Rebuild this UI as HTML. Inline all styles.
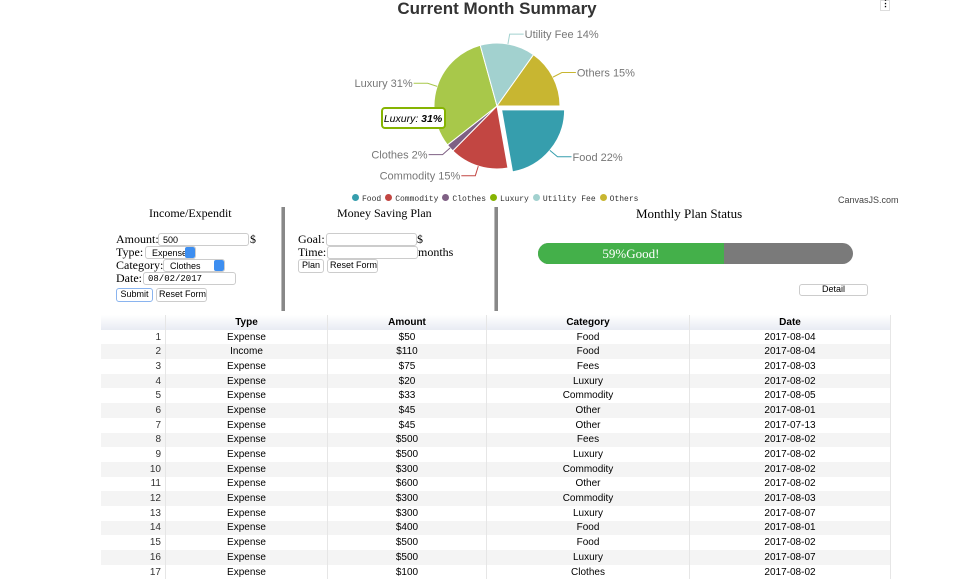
<!DOCTYPE html>
<html><head><meta charset="utf-8"><style>
body{margin:0;width:974px;height:568px;overflow:hidden;background:#fff;position:relative;font-family:"Liberation Serif",serif}
*{white-space:nowrap}
.abs{position:absolute}
.lbl{font-family:"Liberation Serif",serif;font-size:12px;color:#000}
input.t,.sel,.btn{position:absolute;border:1px solid #ccc;border-radius:3px;background:#fff;font-family:"Liberation Sans",sans-serif;font-size:9px;box-sizing:border-box;padding:1px 4px;height:13px;line-height:10px;overflow:hidden}
.btn{text-align:center;height:14px;line-height:11px;padding:0 2px}
.sel{padding-left:6px}
.sel .ar{position:absolute;right:0;top:0;width:10px;height:100%;background:#3d8ef0;border-radius:2px}
.vr{position:absolute;width:3px;background:#888;border-left:1px solid #bbb}
table{position:absolute;left:101px;top:315px;width:790px;border-collapse:collapse;font-family:"Liberation Sans",sans-serif;font-size:10px}
td,th{height:14.7px;padding:0;text-align:center;border-right:1px solid #e6e6e6}
th{background:linear-gradient(#fff,#e8ebf3);font-weight:bold}
td:first-child{text-align:right;padding-right:4px;color:#333}
tr:nth-child(even) td{background:#f4f4f4}
</style></head><body>
<div class="abs" style="left:0;width:994px;top:-1px;text-align:center;font:bold 17px 'Liberation Sans',sans-serif;color:#333">Current Month Summary</div>
<div class="abs" style="left:880px;top:0;width:8px;height:9px;border:1px solid #ddd;font:bold 9px sans-serif;text-align:center;line-height:4px">⋮</div>
<svg class="abs" style="left:0;top:0" width="974" height="210" id="pie"></svg>
<div class="abs" id="legend" style="left:352px;top:194px;font:8px 'Liberation Mono',monospace;color:#333;white-space:nowrap"></div>
<div class="abs" style="left:838px;top:195px;font:9px 'Liberation Sans',sans-serif;color:#444">CanvasJS.com</div>

<div class="abs lbl" style="left:149px;top:206px">Income/Expendit</div>
<div class="abs lbl" style="left:116px;top:232px">Amount:</div>
<input class="t" value="500" style="left:158px;top:233px;width:91px">
<div class="abs lbl" style="left:250px;top:232px">$</div>
<div class="abs lbl" style="left:116px;top:245px">Type:</div>
<div class="sel" style="left:145px;top:246px;width:51px">Expense<span class="ar"></span></div>
<div class="abs lbl" style="left:116px;top:258px">Category:</div>
<div class="sel" style="left:163px;top:259px;width:62px">Clothes<span class="ar"></span></div>
<div class="abs lbl" style="left:116px;top:271px">Date:</div>
<input class="t" value="08/02/2017" style="left:143px;top:272px;width:93px;font-family:'Liberation Mono',monospace">
<div class="btn" style="left:116px;top:288px;width:37px;border-color:#8ab4ef">Submit</div>
<div class="btn" style="left:156px;top:288px;width:51px">Reset Form</div>
<div class="vr" style="left:281px;top:207px;height:104px"></div>

<div class="abs lbl" style="left:337px;top:206px">Money Saving Plan</div>
<div class="abs lbl" style="left:298px;top:232px">Goal:</div>
<input class="t" style="left:326px;top:233px;width:91px">
<div class="abs lbl" style="left:417px;top:232px">$</div>
<div class="abs lbl" style="left:298px;top:245px">Time:</div>
<input class="t" style="left:327px;top:246px;width:91px">
<div class="abs lbl" style="left:418px;top:245px">months</div>
<div class="btn" style="left:298px;top:259px;width:26px">Plan</div>
<div class="btn" style="left:327px;top:259px;width:51px">Reset Form</div>
<div class="vr" style="left:494px;top:207px;height:104px"></div>

<div class="abs lbl" style="left:636px;top:206px;font-size:13px">Monthly Plan Status</div>
<div class="abs" style="left:538px;top:243px;width:315px;height:21px;background:#7a7a7a;border-radius:11px;overflow:hidden">
<div style="width:59%;height:100%;background:#44b04a;color:#fff;font:13px 'Liberation Serif',serif;text-align:center;line-height:21px">59%Good!</div></div>
<div class="btn" style="left:799px;top:284px;width:69px;height:12px;line-height:9px">Detail</div>

<table><thead><tr>
<th style="width:64px"></th><th style="width:161px">Type</th><th style="width:158px">Amount</th><th style="width:202px">Category</th><th>Date</th></tr></thead>
<tbody id="tb"></tbody></table>

<script>
const categories=["Food","Commodity","Clothes","Luxury","Utility Fee","Others"];
const values=[22,15,2,31,14,15];
const colors=["#369EAD","#C24642","#7F6084","#86B402","#A2D1CF","#C8B631"];
const sliceColors=["#369EAD","#C24642","#7F6084","#A8C84A","#A2D1CF","#C8B631"];
const svg=document.getElementById('pie');
const NS="http://www.w3.org/2000/svg";
const cx=497,cy=106,r=63;
let total=values.reduce((a,b)=>a+b,0),ang=0;
values.forEach((v,i)=>{
  const a0=ang,a1=ang+v/total*2*Math.PI;ang=a1;
  const mid=(a0+a1)/2;
  const ex=i===0?6:0;
  const ox=cx+ex*Math.cos(mid),oy=cy+ex*Math.sin(mid);
  const p=document.createElementNS(NS,'path');
  const x0=ox+r*Math.cos(a0),y0=oy+r*Math.sin(a0),x1=ox+r*Math.cos(a1),y1=oy+r*Math.sin(a1);
  p.setAttribute('d',`M${ox},${oy}L${x0},${y0}A${r},${r} 0 ${a1-a0>Math.PI?1:0} 1 ${x1},${y1}Z`);
  p.setAttribute('fill',sliceColors[i]);p.setAttribute('stroke','#fff');p.setAttribute('stroke-width','1');
  
  
  svg.appendChild(p);
  const ax=ox+r*Math.cos(mid),ay=oy+r*Math.sin(mid);
  const bx=ox+(r+10)*Math.cos(mid),by=oy+(r+10)*Math.sin(mid);
  const right=Math.cos(mid)>=0;
  const ex2=bx+(right?14:-14);
  const l=document.createElementNS(NS,'polyline');
  l.setAttribute('points',`${ax},${ay} ${bx},${by} ${ex2},${by}`);
  l.setAttribute('fill','none');l.setAttribute('stroke',sliceColors[i]);
  
  
  svg.appendChild(l);
  const t=document.createElementNS(NS,'text');
  t.setAttribute('x',ex2+(right?1:-1));t.setAttribute('y',by+4);
  t.setAttribute('text-anchor',right?'start':'end');
  t.setAttribute('font-family','Liberation Sans, sans-serif');t.setAttribute('font-size','11');t.setAttribute('fill','#777');
  t.textContent=categories[i]+' '+v+'%';
  
  
  svg.appendChild(t);
});
const tip=document.createElementNS(NS,'g');


tip.innerHTML='<rect x="382" y="108" width="63" height="20" rx="3" fill="#fff" stroke="#86B402" stroke-width="2"/><text x="413" y="122" text-anchor="middle" font-family="Liberation Sans, sans-serif" font-size="10.5" font-style="italic"><tspan>Luxury: </tspan><tspan font-weight="bold">31%</tspan></text>';
svg.appendChild(tip);
const lg=document.getElementById('legend');
categories.forEach((c,i)=>{
  const s=document.createElement('span');
  
  
  s.style.marginRight='4px';
  s.innerHTML=`<span style="display:inline-block;width:7px;height:7px;border-radius:50%;background:${colors[i]};margin-right:3px"></span>${c}`;
  lg.appendChild(s);
});
const rowTypes=["Expense","Income","Expense","Expense","Expense","Expense","Expense","Expense","Expense","Expense","Expense","Expense","Expense","Expense","Expense","Expense","Expense"];
const rowAmounts=[50,110,75,20,33,45,45,500,500,300,600,300,300,400,500,500,100];
const rowCats=["Food","Food","Fees","Luxury","Commodity","Other","Other","Fees","Luxury","Commodity","Other","Commodity","Luxury","Food","Food","Luxury","Clothes"];
const rowDates=["2017-08-04","2017-08-04","2017-08-03","2017-08-02","2017-08-05","2017-08-01","2017-07-13","2017-08-02","2017-08-02","2017-08-02","2017-08-02","2017-08-03","2017-08-07","2017-08-01","2017-08-02","2017-08-07","2017-08-02"];
const tb=document.getElementById('tb');
rowTypes.forEach((t,i)=>{
  const tr=document.createElement('tr');
  
  
  tr.innerHTML=`<td>${i+1}</td><td>${t}</td><td>$${rowAmounts[i]}</td><td>${rowCats[i]}</td><td>${rowDates[i]}</td>`;
  tb.appendChild(tr);
});
</script>
</body></html>
